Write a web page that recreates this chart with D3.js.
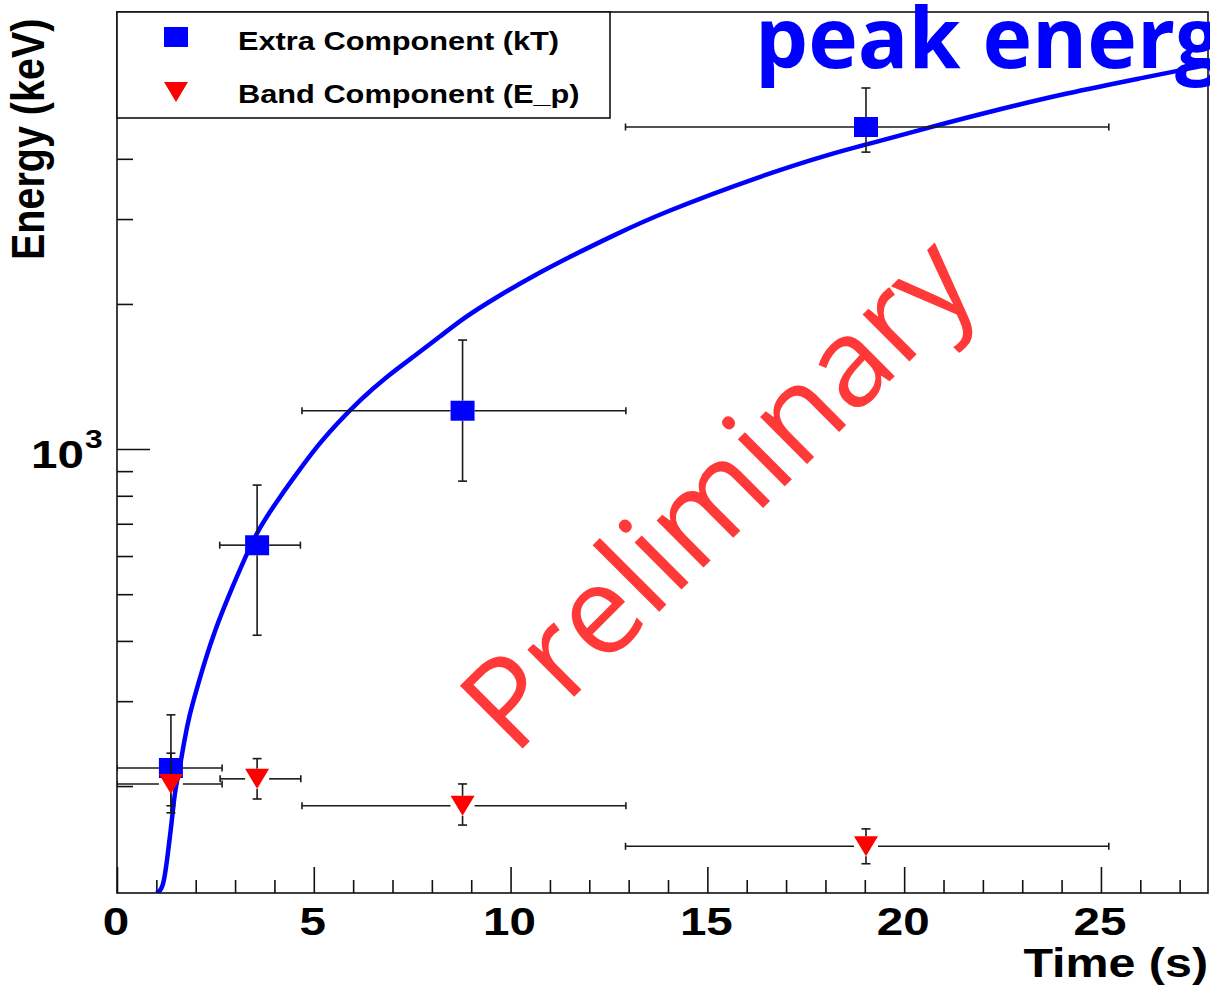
<!DOCTYPE html>
<html><head><meta charset="utf-8">
<script src="https://cdn.jsdelivr.net/npm/d3@7"></script>
<style>html,body{margin:0;padding:0;background:#fff;overflow:hidden}</style>
</head><body>
<svg id="chart" width="1210" height="985"></svg>
<script>
// ---------- data ----------
const xMajorTicks = [0, 5, 10, 15, 20, 25];
const xTickLabels = ["0", "5", "10", "15", "20", "25"];
const xMinorTicks = [1,2,3,4,6,7,8,9,11,12,13,14,16,17,18,19,21,22,23,24,26,27];
const yMajorTicks = [1000];
const yMinorTicks = [200,300,400,500,600,700,800,900,2000,3000,4000,5000,6000,7000,8000];

const fitTime = [1.00, 1.18, 1.30, 1.39, 1.47, 1.60, 1.70, 1.84, 2.03, 2.24, 2.49, 2.79, 3.30, 3.63, 4.14, 4.57, 5.07, 5.58, 6.17, 6.85, 7.53, 8.21, 8.80, 9.65, 10.57, 11.59, 12.61, 13.80, 16.41, 18.19, 19.18, 20.68, 22.15, 24.14, 26.12, 27.72];
const fitEnergy = [120, 122, 147, 168, 196, 219, 246, 281, 319, 365, 421, 486, 608, 690, 796, 890, 1011, 1127, 1264, 1413, 1554, 1712, 1870, 2068, 2286, 2526, 2773, 3081, 3702, 4110, 4313, 4656, 5005, 5478, 5900, 6270];

const extraTime = [1.37, 3.56, 8.78, 19.03];
const extraTimeLow = [0, 2.61, 4.70, 12.92];
const extraTimeHigh = [2.67, 4.66, 12.93, 25.20];
const extraEnergy = [218, 632, 1201, 4657];
const extraEnergyLow = [176, 411, 858, 4130];
const extraEnergyHigh = [281, 842, 1683, 5610];

const bandTime = [1.37, 3.56, 8.78, 19.03];
const bandTimeLow = [0, 2.62, 4.70, 12.92];
const bandTimeHigh = [2.67, 4.67, 12.93, 25.20];
const bandEnergy = [202, 207, 182, 150];
const bandEnergyLow = [182, 188, 166, 138];
const bandEnergyHigh = [234, 228, 202, 163];

const legendLabels = ["Extra Component (kT)", "Band Component (E_p)"];
const xTitle = "Time (s)";
const yTitle = "Energy (keV)";
const yLabelBase = "10", yLabelExp = "3";
const overlayTitle = "peak energy";
const watermark = "Preliminary";

// ---------- layout ----------
const L = 117, R = 1208, T = 12, B = 893;
const SX = 1.22; // horizontal stretch of the original raster
const rootFont = "'Liberation Sans', Arial, Helvetica, sans-serif";
const svg = d3.select("#chart");

const x = d3.scaleLinear().domain([0, 27.72]).range([L, R]);
const y = d3.scaleLog().domain([120, 8065]).range([B, T]);

svg.append("defs").append("clipPath").attr("id", "frameClip")
  .append("rect").attr("x", L).attr("y", T).attr("width", R - L).attr("height", B - T);

// ---------- ticks ----------
function styleAxis(g) {
  g.select(".domain").remove();
  g.selectAll(".tick line").attr("stroke", "#111").attr("stroke-width", 1.6);
  g.selectAll(".tick text").remove();
}
svg.append("g").attr("transform", `translate(0,${B})`)
  .call(d3.axisBottom(x).tickValues(xMajorTicks).tickSize(-26).tickFormat(""))
  .call(styleAxis);
svg.append("g").attr("transform", `translate(0,${B})`)
  .call(d3.axisBottom(x).tickValues(xMinorTicks).tickSize(-13).tickFormat(""))
  .call(styleAxis);
svg.append("g").attr("transform", `translate(${L},0)`)
  .call(d3.axisLeft(y).tickValues(yMajorTicks).tickSize(-33).tickFormat(""))
  .call(styleAxis);
svg.append("g").attr("transform", `translate(${L},0)`)
  .call(d3.axisLeft(y).tickValues(yMinorTicks).tickSize(-16).tickFormat(""))
  .call(styleAxis);

// ---------- fit curve ----------
const fitData = fitTime.map((t, i) => ({ t, e: fitEnergy[i] }));
svg.append("path").datum(fitData)
  .attr("clip-path", "url(#frameClip)")
  .attr("fill", "none").attr("stroke", "#0000ff").attr("stroke-width", 4.5)
  .attr("stroke-linejoin", "round")
  .attr("d", d3.line().x(d => x(d.t)).y(d => y(d.e)).curve(d3.curveBasis));

// ---------- data series ----------
const HW = 12, HH = 10;
function drawSeries(time, tLo, tHi, en, eLo, eHi, marker, color) {
  const data = time.map((t, i) => ({ t, lo: tLo[i], hi: tHi[i], e: en[i], elo: eLo[i], ehi: eHi[i] }));
  const g = svg.append("g").attr("clip-path", "url(#frameClip)");
  const seg = [];
  data.forEach(d => {
    const cx = x(d.t), cy = y(d.e);
    const xl = x(d.lo), xr = x(d.hi), yt = y(d.ehi), yb = y(d.elo);
    seg.push([xl, cy, cx - HW, cy], [cx + HW, cy, xr, cy]);
    seg.push([xl, cy - 3.5, xl, cy + 3.5], [xr, cy - 3.5, xr, cy + 3.5]);
    seg.push([cx, yt, cx, cy - HH], [cx, cy + HH, cx, yb]);
    seg.push([cx - 4.5, yt, cx + 4.5, yt], [cx - 4.5, yb, cx + 4.5, yb]);
  });
  g.selectAll("line.err").data(seg).join("line").attr("class", "err")
    .attr("x1", s => s[0]).attr("y1", s => s[1]).attr("x2", s => s[2]).attr("y2", s => s[3])
    .attr("stroke", "#1a1a1a").attr("stroke-width", 1.6);
  g.selectAll("path.mk").data(data).join("path").attr("class", "mk")
    .attr("d", d => marker(x(d.t), y(d.e))).attr("fill", color);
}
const squarePath = (cx, cy) => `M${cx - 12},${cy - 10}h24v20h-24Z`;
const triPath = (cx, cy) => `M${cx - 12},${cy - 10}L${cx + 12},${cy - 10}L${cx},${cy + 10}Z`;

drawSeries(extraTime, extraTimeLow, extraTimeHigh, extraEnergy, extraEnergyLow, extraEnergyHigh, squarePath, "#0000ff");
drawSeries(bandTime, bandTimeLow, bandTimeHigh, bandEnergy, bandEnergyLow, bandEnergyHigh, triPath, "#ff0000");

// ---------- frame ----------
svg.append("rect").attr("x", L).attr("y", T).attr("width", R - L).attr("height", B - T)
  .attr("fill", "none").attr("stroke", "#111").attr("stroke-width", 1.6);

// ---------- legend ----------
const lg = svg.append("g");
lg.append("rect").attr("x", L).attr("y", T).attr("width", 610 - L).attr("height", 118 - T)
  .attr("fill", "#fff").attr("stroke", "#111").attr("stroke-width", 1.6);
const legendMarkers = [squarePath, triPath];
const legendColors = ["#0000ff", "#ff0000"];
const legendY = [37, 92];
const legendBase = [50, 103];
legendLabels.forEach((lab, i) => {
  lg.append("path").attr("d", legendMarkers[i](176, legendY[i])).attr("fill", legendColors[i]);
  lg.append("text").attr("transform", `translate(238,${legendBase[i]}) scale(1.23,1)`)
    .attr("font-family", rootFont).attr("font-weight", "bold").attr("font-size", 25)
    .attr("fill", "#000").text(lab);
});

// ---------- axis texts ----------
const tx = svg.append("g").attr("font-family", rootFont).attr("font-weight", "bold").attr("fill", "#000");
tx.selectAll("text.xl").data(xMajorTicks).join("text").attr("class", "xl")
  .attr("transform", d => `translate(${x(d) - 1},935) scale(${SX},1)`)
  .attr("text-anchor", "middle").attr("font-size", 39)
  .text((d, i) => xTickLabels[i]);
tx.append("text").attr("transform", `translate(84,${y(1000) + 19}) scale(${SX},1)`)
  .attr("text-anchor", "end").attr("font-size", 39).text(yLabelBase);
tx.append("text").attr("transform", `translate(85,${y(1000) - 1}) scale(${SX},1)`)
  .attr("text-anchor", "start").attr("font-size", 26).text(yLabelExp);
tx.append("text").attr("transform", `translate(1208,977) scale(1.21,1)`)
  .attr("text-anchor", "end").attr("font-size", 40).text(xTitle);
tx.append("text").attr("transform", `translate(44,260) scale(1.15,1) rotate(-90)`)
  .attr("text-anchor", "start").attr("font-size", 39.5).text(yTitle);

// ---------- overlays ----------
svg.append("text").attr("x", 755).attr("y", 68)
  .attr("font-family", "'Open Sans', 'Noto Sans', sans-serif").attr("font-weight", "bold")
  .attr("font-size", 84).attr("fill", "#0000ff").text(overlayTitle);
svg.append("text").attr("transform", "translate(514,757) rotate(-45)")
  .attr("font-family", "'Open Sans', 'Noto Sans', sans-serif").attr("font-weight", "normal")
  .attr("font-size", 124).attr("fill", "#ff3838").text(watermark);
</script>
</body></html>
